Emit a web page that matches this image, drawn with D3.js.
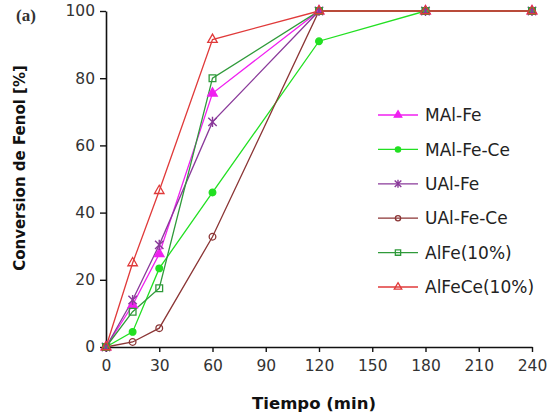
<!DOCTYPE html>
<html>
<head>
<meta charset="utf-8">
<script src="https://cdn.jsdelivr.net/npm/d3@7"></script>
<style>
  html, body { margin: 0; padding: 0; background: #fff; }
  svg { display: block; font-family: "DejaVu Sans", Verdana, sans-serif; }
</style>
</head>
<body>
<svg id="chart" width="551" height="417"></svg>
<script>
// Reaction time (min)
const times = [0, 15, 30, 60, 120, 180, 240];

// Phenol conversion (%) per catalyst
const mAlFe    = [0, 12.5, 27.7, 75.5, 100, 100, 100];
const mAlFeCe  = [0, 4.5, 23.4, 46, 91, 100, 100];
const uAlFe    = [0, 14, 30.4, 67, 100, 100, 100];
const uAlFeCe  = [0, 1.5, 5.6, 32.8, 100, 100, 100];
const alFe10   = [0, 10.5, 17.5, 80, 100, 100, 100];
const alFeCe10 = [0, 25, 46.5, 91.5, 100, 100, 100];

const seriesNames = ["MAl-Fe", "MAl-Fe-Ce", "UAl-Fe", "UAl-Fe-Ce", "AlFe(10%)", "AlFeCe(10%)"];
const xTicks = [0, 30, 60, 90, 120, 150, 180, 210, 240];
const yTicks = [0, 20, 40, 60, 80, 100];

const series = [
  { name: seriesNames[0], values: mAlFe,    color: "#f020f0", symbol: d3.symbolTriangle, fill: true },
  { name: seriesNames[1], values: mAlFeCe,  color: "#22e022", symbol: d3.symbolCircle,   fill: true },
  { name: seriesNames[2], values: uAlFe,    color: "#8a3a9a", symbol: "star",            fill: false },
  { name: seriesNames[3], values: uAlFeCe,  color: "#8b3535", symbol: d3.symbolCircle,   fill: false },
  { name: seriesNames[4], values: alFe10,   color: "#2f9a3a", symbol: d3.symbolSquare,   fill: false },
  { name: seriesNames[5], values: alFeCe10, color: "#e03a3a", symbol: d3.symbolTriangle, fill: false }
];

const svg = d3.select("#chart");
const margin = { left: 106, right: 18, top: 11, bottom: 70 };
const W = 551, H = 417;

const x = d3.scaleLinear().domain([0, 240]).range([margin.left, W - margin.right - 1]);
const y = d3.scaleLinear().domain([0, 100]).range([H - margin.bottom, margin.top]);

// Axes
const xAxis = svg.append("g")
  .attr("transform", `translate(0,${y(0)})`)
  .call(d3.axisBottom(x).tickValues(xTicks).tickSize(5).tickSizeOuter(0).tickPadding(8));
const yAxis = svg.append("g")
  .attr("transform", `translate(${x(0)},0)`)
  .call(d3.axisLeft(y).tickValues(yTicks).tickSize(6).tickSizeOuter(0).tickPadding(5));

[xAxis, yAxis].forEach(g => {
  g.select(".domain").attr("stroke", "#111").attr("stroke-width", 1.6);
  g.selectAll(".tick line").attr("stroke", "#111").attr("stroke-width", 1.4);
  g.selectAll(".tick text").attr("fill", "#333").style("font-size", "15.5px")
    .style("font-family", "'DejaVu Sans', Verdana, sans-serif");
});

// Marker drawing
function drawMarker(g, s, cx, cy, size) {
  if (s.symbol === "star") {
    const r = size;
    const p = `M${cx - r},${cy - r}L${cx + r},${cy + r}M${cx - r},${cy + r}L${cx + r},${cy - r}M${cx},${cy - r * 1.2}L${cx},${cy + r * 1.2}`;
    g.append("path").attr("d", p).attr("stroke", s.color).attr("stroke-width", 1.4).attr("fill", "none");
  } else {
    const k = size / 4.5;
    const area = (s.symbol === d3.symbolSquare ? 52 : (s.symbol === d3.symbolTriangle ? 45 : 40)) * k * k;
    g.append("path")
      .attr("d", d3.symbol().type(s.symbol).size(area)())
      .attr("transform", `translate(${cx},${cy})`)
      .attr("fill", s.fill ? s.color : "#fff")
      .attr("fill-opacity", s.fill ? 1 : 0)
      .attr("stroke", s.color)
      .attr("stroke-width", 1.3);
  }
}

const line = d3.line().x(d => x(d[0])).y(d => y(d[1]));
const plot = svg.append("g");

series.forEach(s => {
  const pts = times.map((t, i) => [t, s.values[i]]);
  plot.append("path")
    .datum(pts)
    .attr("d", line)
    .attr("fill", "none")
    .attr("stroke", s.color)
    .attr("stroke-width", 1.3);
});
series.forEach(s => {
  const g = plot.append("g");
  times.forEach((t, i) => drawMarker(g, s, x(t), y(s.values[i]), 4.2));
});

// Legend
const legend = svg.append("g");
series.forEach((s, i) => {
  const ly = 115 + i * 34.4;
  const g = legend.append("g");
  g.append("line").attr("x1", 378).attr("x2", 418).attr("y1", ly).attr("y2", ly)
    .attr("stroke", s.color).attr("stroke-width", 1.3);
  drawMarker(g, s, 398, ly, 3.3);
  g.append("text").attr("x", 425).attr("y", ly).attr("dy", "0.36em")
    .attr("fill", "#222").style("font-size", "17px").text(s.name);
});

// Axis titles
svg.append("text")
  .attr("x", 314).attr("y", 409)
  .attr("text-anchor", "middle")
  .style("font-weight", "bold").style("font-size", "16.5px").attr("fill", "#111")
  .text("Tiempo (min)");

svg.append("text")
  .attr("transform", `translate(25,168) rotate(-90)`)
  .attr("text-anchor", "middle")
  .style("font-weight", "bold").style("font-size", "15px").attr("fill", "#111")
  .text("Conversion de Fenol [%]");

// Panel label
svg.append("text")
  .attr("x", 16).attr("y", 21)
  .style("font-family", "'Liberation Serif', 'DejaVu Serif', serif")
  .style("font-weight", "bold").style("font-size", "17px").attr("fill", "#333")
  .text("(a)");
</script>
</body>
</html>
